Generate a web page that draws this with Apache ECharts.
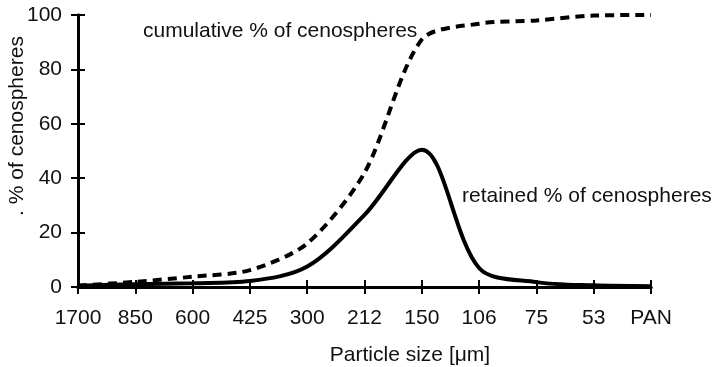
<!DOCTYPE html>
<html>
<head>
<meta charset="utf-8">
<script src="https://cdn.jsdelivr.net/npm/echarts@6/dist/echarts.min.js"></script>
<style>
html,body{margin:0;padding:0;background:#fff;}
#chart{width:716px;height:367px;}
</style>
</head>
<body>
<div id="chart"></div>
<script>
var categories = ['1700','850','600','425','300','212','150','106','75','53','PAN'];
var cumulative = [0.5, 1.9, 3.8, 6.2, 16, 42, 91, 96.8, 98, 99.8, 100];
var retained = [0.5, 1.0, 1.4, 2.2, 7.5, 26.5, 50.5, 7, 1.8, 0.6, 0.3];
var yTicks = [0, 20, 40, 60, 80, 100];

var FONT = '"Liberation Sans", Arial, sans-serif';
var TXT = '#111';
var FS = 21;

var chart = echarts.init(document.getElementById('chart'));
var yBase = {
  type: 'value', min: 0, max: 100, interval: 20, position: 'left',
  splitLine: {show: false},
  axisLine: {show: true, lineStyle: {color: '#000', width: 3}}
};
var xBase = {
  type: 'category', data: categories, boundaryGap: false, position: 'bottom',
  axisLine: {show: true, lineStyle: {color: '#000', width: 3}},
  splitLine: {show: false}
};
chart.setOption({
  animation: false,
  grid: {left: 78, right: 65, top: 15, bottom: 80},
  xAxis: [
    Object.assign({}, xBase, {
      axisTick: {show: true, inside: false, length: 7, alignWithLabel: true, lineStyle: {color: '#000', width: 2}},
      axisLabel: {show: true, margin: 21, fontSize: FS, color: TXT, fontFamily: FONT, interval: 0}
    }),
    Object.assign({}, xBase, {
      axisTick: {show: true, inside: true, length: 7, lineStyle: {color: '#000', width: 2}},
      axisLabel: {show: false}
    })
  ],
  yAxis: [
    Object.assign({}, yBase, {
      axisTick: {show: true, inside: false, length: 7, lineStyle: {color: '#000', width: 2}},
      axisLabel: {show: true, margin: 16, fontSize: FS, color: TXT, fontFamily: FONT}
    }),
    Object.assign({}, yBase, {
      axisTick: {show: true, inside: true, length: 7, lineStyle: {color: '#000', width: 2}},
      axisLabel: {show: false}
    })
  ],
  series: [
    {
      name: 'cumulative % of cenospheres', type: 'line', data: cumulative,
      xAxisIndex: 0, yAxisIndex: 0, smooth: 0.28, symbol: 'none',
      lineStyle: {color: '#000', width: 4, type: [9, 6]}
    },
    {
      name: 'retained % of cenospheres', type: 'line', data: retained,
      xAxisIndex: 0, yAxisIndex: 0, smooth: 0.32, symbol: 'none',
      lineStyle: {color: '#000', width: 4}
    }
  ],
  graphic: [
    {type: 'text', x: 143, y: 31, style: {text: 'cumulative % of cenospheres', font: FS + 'px ' + FONT, fill: TXT, textVerticalAlign: 'middle'}},
    {type: 'text', x: 462, y: 196, style: {text: 'retained % of cenospheres', font: FS + 'px ' + FONT, fill: TXT, textVerticalAlign: 'middle'}},
    {type: 'text', x: 410, y: 355, style: {text: 'Particle size [μm]', font: FS + 'px ' + FONT, fill: TXT, textAlign: 'center', textVerticalAlign: 'middle'}},
    {type: 'text', x: 17, y: 126, rotation: Math.PI / 2, style: {text: '. % of cenospheres', font: FS + 'px ' + FONT, fill: TXT, textAlign: 'center', textVerticalAlign: 'middle'}}
  ]
});
</script>
</body>
</html>
